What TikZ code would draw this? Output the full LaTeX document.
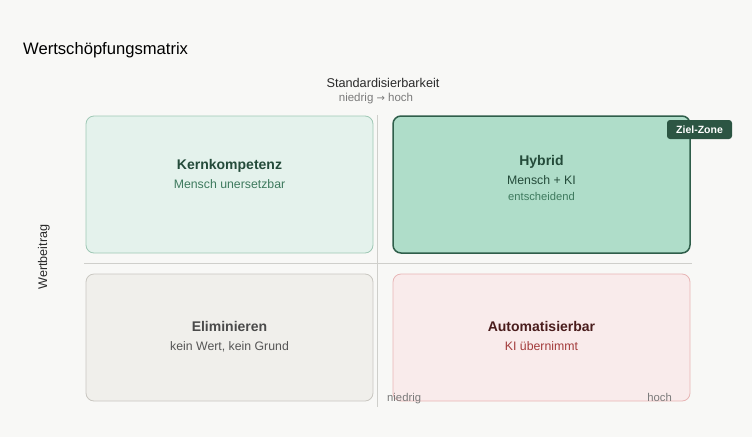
\documentclass[tikz,border=0pt]{standalone}
\usepackage{fontspec}
\setmainfont{Liberation Sans}
\newfontfamily\symfont{DejaVu Sans}
\definecolor{bg}{HTML}{F8F8F6}
\definecolor{axisc}{HTML}{CFCFCB}
\definecolor{kfill}{HTML}{E4F2EC}
\definecolor{kdraw}{HTML}{9FC8B5}
\definecolor{hfill}{HTML}{AFDDC9}
\definecolor{hdraw}{HTML}{2F5E4A}
\definecolor{efill}{HTML}{F0EFEB}
\definecolor{edraw}{HTML}{C9C7C1}
\definecolor{afill}{HTML}{F9EBEB}
\definecolor{adraw}{HTML}{E8B5B5}
\definecolor{tagc}{HTML}{2C5543}
\definecolor{greendark}{HTML}{244B3A}
\definecolor{greenmid}{HTML}{3E7A5E}
\definecolor{reddark}{HTML}{4A1D1D}
\definecolor{redmid}{HTML}{A33B3B}
\definecolor{txt}{HTML}{2A2A2A}
\definecolor{graytxt}{HTML}{7A7A7A}
\begin{document}
\begin{tikzpicture}[x=1pt,y=-1pt,
  quad/.style={rounded corners=8pt, line width=0.8pt},
  ttl/.style={anchor=base, font=\fontsize{14}{16}\selectfont\bfseries},
  sub/.style={anchor=base, font=\fontsize{12.3}{14}\selectfont},
  small/.style={anchor=base, font=\fontsize{11.3}{13}\selectfont, text=graytxt}]
\fill[bg] (0,0) rectangle (752,437);
\useasboundingbox (0,0) rectangle (752,437);
% axes
\coordinate (vt) at (377,115);
\coordinate (vb) at (377,407);
\coordinate (hl) at (84,263);
\coordinate (hr) at (692,263);
\draw[axisc, line width=0.9pt] (vt) -- (vb);
\draw[axisc, line width=0.9pt] (hl) -- (hr);
% quadrants
\draw[quad, fill=kfill, draw=kdraw] (86,116) rectangle (373,253);
\draw[quad, fill=hfill, draw=hdraw, line width=1.5pt] (393,116) rectangle (690,253);
\draw[quad, fill=efill, draw=edraw] (86,274) rectangle (373,401);
\draw[quad, fill=afill, draw=adraw] (393,274) rectangle (690,401);
% title
\node[anchor=base west, inner sep=0pt, font=\fontsize{16.6}{19}\selectfont, text=black] (title) at (23,54) {Wertschöpfungsmatrix};
\node[anchor=base, inner sep=0pt, font=\fontsize{12.7}{15}\selectfont, text=txt] (xax) at (383,87) {Standardisierbarkeit};
\node[anchor=base, inner sep=0pt, font=\fontsize{11.5}{13}\selectfont, text=graytxt] (xrange) at (376,101) {niedrig {\symfont\fontsize{10}{11}\selectfont→} hoch};
\node[anchor=base, inner sep=0pt, rotate=90, font=\fontsize{12.6}{14}\selectfont, text=txt] (yax) at (47,257) {Wertbeitrag};
% Kernkompetenz
\node[ttl, text=greendark] (k1) at (229.5,169) {Kernkompetenz};
\node[sub, text=greenmid] (k2) at (229.5,188) {Mensch unersetzbar};
% Hybrid
\node[ttl, text=greendark] (h1) at (541.5,165) {Hybrid};
\node[sub, text=greendark] (h2) at (541.5,184) {Mensch + KI};
\node[anchor=base, font=\fontsize{11.2}{13}\selectfont, text=greenmid] (h3) at (541.5,200) {entscheidend};
% Eliminieren
\node[ttl, text=txt!85] (e1) at (229.5,331) {Eliminieren};
\node[sub, text=txt!80] (e2) at (229.5,350) {kein Wert, kein Grund};
% Automatisierbar
\node[ttl, text=reddark] (a1) at (541.5,331) {Automatisierbar};
\node[sub, text=redmid] (a2) at (541.5,350) {KI übernimmt};
% axis end labels
\node[small, anchor=base west, inner sep=0pt] (lo) at (387,401) {niedrig};
\node[small, anchor=base east, inner sep=0pt] (hi) at (672,401) {hoch};
% tag
\node[fill=tagc, rounded corners=3pt, text=white, font=\fontsize{10.5}{12}\selectfont\bfseries, minimum width=65pt, minimum height=19pt, inner sep=0pt] (tag) at (699.5,129.5) {Ziel-Zone};
\end{tikzpicture}
\end{document}
